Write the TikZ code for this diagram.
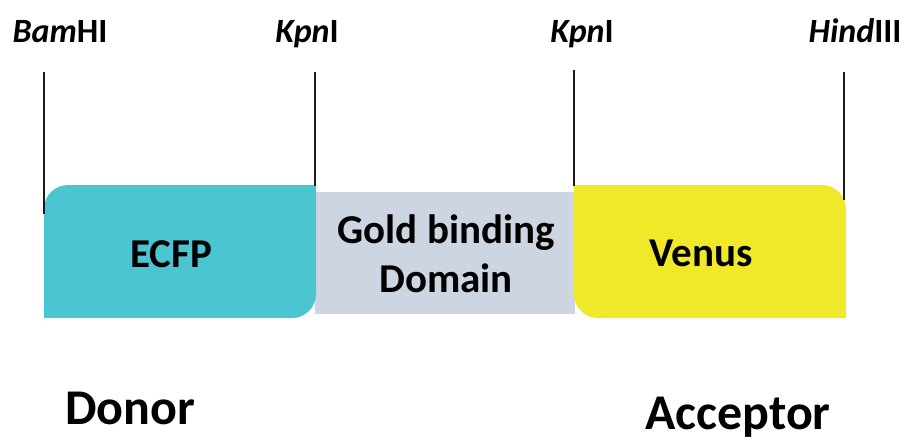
\documentclass[tikz,border=0pt]{standalone}
\usepackage{fontspec}
\setmainfont{Carlito}
\definecolor{ecfp}{HTML}{4BC5D2}
\definecolor{gbd}{HTML}{CDD5E2}
\definecolor{venus}{HTML}{F0E92A}
\definecolor{ink}{HTML}{1A1A1A}
\begin{document}
\begin{tikzpicture}[x=1pt,y=1pt,
  site/.style={font=\fontsize{34}{34}\selectfont\bfseries, anchor=base, inner sep=0pt},
  boxtext/.style={font=\fontsize{41}{50}\selectfont\bfseries, inner sep=0pt, align=center},
  role/.style={font=\fontsize{50}{50}\selectfont\bfseries, anchor=base, inner sep=0pt},
  cutline/.style={draw=ink, line width=1.4pt}]
\useasboundingbox (0,0) rectangle (904,-441);
% boxes
\fill[gbd] (315,-192) rectangle (575,-314);
\fill[ecfp] (44,-318) -- (44,-209) arc[start angle=180, end angle=90, radius=24]
  -- (316,-185) -- (316,-294) arc[start angle=0, end angle=-90, radius=24] -- cycle;
\fill[venus] (574,-185) -- (822,-185) arc[start angle=90, end angle=0, radius=24]
  -- (846,-318) -- (598,-318) arc[start angle=270, end angle=180, radius=24] -- cycle;
% box texts
\node[boxtext, anchor=base] (ecfp) at (171,-267) {ECFP};
\node[boxtext, anchor=base] (gold1) at (446,-243) {Gold binding};
\node[boxtext, anchor=base] (gold2) at (446,-292) {Domain};
\node[boxtext, anchor=base] (venus) at (701,-266) {Venus};
% site labels
\node[site] (bam) at (60,-43) {\textit{Bam}HI};
\node[site] (kpn1) at (307,-43) {\textit{Kpn}I};
\node[site] (kpn2) at (582,-43) {\textit{Kpn}I};
\node[site] (hind) at (855,-43) {\textit{Hind}III};
% cut lines
\coordinate (b1) at (44,-72);  \coordinate (b2) at (44,-214);
\coordinate (k1) at (315,-72); \coordinate (k2) at (315,-186);
\coordinate (m1) at (574,-70); \coordinate (m2) at (574,-186);
\coordinate (h1) at (844,-72); \coordinate (h2) at (844,-200);
\draw[cutline] (b1) -- (b2);
\draw[cutline] (k1) -- (k2);
\draw[cutline] (m1) -- (m2);
\draw[cutline] (h1) -- (h2);
% roles
\node[role] (donor) at (130,-424) {Donor};
\node[role] (acceptor) at (738,-429) {Acceptor};
\end{tikzpicture}
\end{document}
